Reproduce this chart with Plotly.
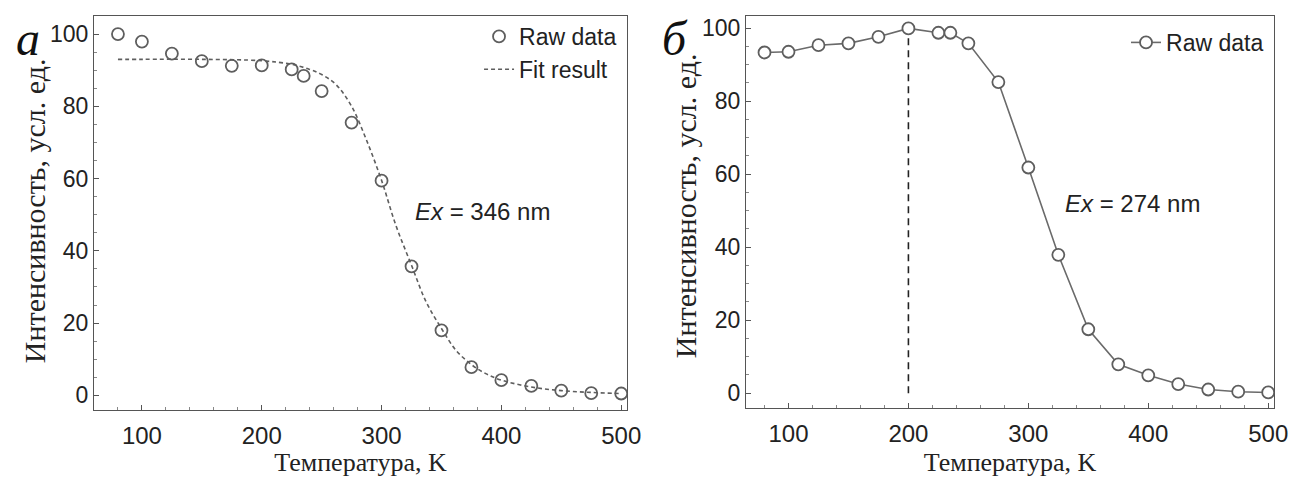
import plotly.graph_objects as go

W, H = 1306, 477

# ---- data: panel a ----
temp_a = [80, 100, 125, 150, 175, 200, 225, 235, 250, 275, 300, 325, 350, 375, 400, 425, 450, 475, 500]
raw_a = [100, 97.9, 94.6, 92.5, 91.2, 91.3, 90.2, 88.4, 84.2, 75.5, 59.4, 35.7, 18.0, 7.8, 4.2, 2.6, 1.3, 0.6, 0.5]

fit_temp = [80, 100, 150, 200, 225, 240, 250, 262, 275, 287, 300, 312, 325, 337, 350, 362, 375, 387, 400, 425, 450, 475, 500]
fit_val = [93, 93, 93, 92.6, 91.6, 90.2, 88.8, 86.0, 80.0, 71, 59.5, 47, 36, 26, 18.5, 12.5, 8.5, 6, 4.2, 2.3, 1.3, 0.8, 0.5]

# ---- data: panel b ----
temp_b = [80, 100, 125, 150, 175, 200, 225, 235, 250, 275, 300, 325, 350, 375, 400, 425, 450, 475, 500]
raw_b = [93.3, 93.5, 95.3, 95.8, 97.6, 99.9, 98.7, 98.7, 95.8, 85.2, 61.8, 37.9, 17.5, 7.9, 4.9, 2.5, 1.0, 0.4, 0.2]

marker_line_x = [200, 200]
marker_line_y = [0, 100]

x_ticks = [100, 200, 300, 400, 500]
y_ticks = [0, 20, 40, 60, 80, 100]

GRAY = "#5e5e5e"
SANS = "Liberation Sans, Arial, sans-serif"
SERIF = "Liberation Serif, Times New Roman, serif"

fig = go.Figure()

fig.add_trace(go.Scatter(
    x=temp_a, y=raw_a, mode="markers", name="Raw data",
    marker=dict(symbol="circle-open", size=12, color=GRAY, line=dict(width=1.8, color=GRAY)),
    xaxis="x", yaxis="y", legend="legend"))
fig.add_trace(go.Scatter(
    x=fit_temp, y=fit_val, mode="lines", name="Fit result", line_shape="spline",
    line=dict(color=GRAY, width=1.6, dash="4px,3px"),
    xaxis="x", yaxis="y", legend="legend"))

fig.add_trace(go.Scatter(
    x=marker_line_x, y=marker_line_y, mode="lines", showlegend=False,
    line=dict(color="#222222", width=1.6, dash="7px,5px"),
    xaxis="x2", yaxis="y2"))
fig.add_trace(go.Scatter(
    x=temp_b, y=raw_b, mode="lines+markers", name="Raw data",
    line=dict(color="#6a6a6a", width=1.6),
    marker=dict(symbol="circle", size=12, color="white", line=dict(width=1.8, color=GRAY)),
    xaxis="x2", yaxis="y2", legend="legend2"))

tick_common = dict(
    showline=True, mirror=True, linecolor="#555555", linewidth=1,
    ticks="inside", ticklen=5, tickcolor="#555555", tickwidth=1,
    showgrid=False, zeroline=False,
    minor=dict(ticks="inside", ticklen=3, tickcolor="#888888"),
)
xt = dict(title_font=dict(family=SERIF, size=26, color="#222222"), title_standoff=6,
          tickfont=dict(family=SANS, size=24, color="#222222"),
          ticklabelstandoff=4, **tick_common)
yt = dict(tickfont=dict(family=SANS, size=23, color="#222222"),
          ticksuffix="\u2009", **tick_common)

fig.update_layout(
    width=W, height=H,
    margin=dict(l=0, r=0, t=0, b=0),
    paper_bgcolor="white", plot_bgcolor="white",
    xaxis=dict(domain=[95 / W, 634 / W], range=[60, 505], tickvals=x_ticks,
               title_text="Температура, K", anchor="y", **xt),
    yaxis=dict(domain=[1 - 410 / H, 1 - 15 / H], range=[-4.1, 105], tickvals=y_ticks,
               anchor="x", **yt),
    xaxis2=dict(domain=[754 / W, 1288 / W], range=[64.5, 505], tickvals=x_ticks,
                title_text="Температура, K", anchor="y2", **xt),
    yaxis2=dict(domain=[1 - 408 / H, 1 - 15 / H], range=[-4.1, 103.3], tickvals=y_ticks,
                anchor="x2", **yt),
    legend=dict(x=634 / W - 0.004, y=1 - 14 / H, xanchor="right", yanchor="top",
                bgcolor="rgba(0,0,0,0)", font=dict(family=SANS, size=23, color="#222222"),
                tracegroupgap=0, itemwidth=30),
    legend2=dict(x=1288 / W - 0.004, y=1 - 20 / H, xanchor="right", yanchor="top",
                 bgcolor="rgba(0,0,0,0)", font=dict(family=SANS, size=23, color="#222222"),
                 itemwidth=30),
    showlegend=True,
)

# rotated y-axis titles
fig.add_annotation(x=35 / W, y=1 - 210 / H, xref="paper", yref="paper",
                   text="Интенсивность, усл. ед.", textangle=-90, showarrow=False,
                   xanchor="center", yanchor="middle",
                   font=dict(family=SERIF, size=30, color="#222222"))
fig.add_annotation(x=693 / W, y=1 - 205 / H, xref="paper", yref="paper",
                   text="Интенсивность, усл. ед.", textangle=-90, showarrow=False,
                   xanchor="center", yanchor="middle",
                   font=dict(family=SERIF, size=30, color="#222222"))

fig.add_annotation(x=326, y=51, xref="x", yref="y", text="<i>Ex</i> = 346 nm",
                   showarrow=False, xanchor="left", yanchor="middle",
                   font=dict(family=SANS, size=24, color="#222222"))
fig.add_annotation(x=329, y=52, xref="x2", yref="y2", text="<i>Ex</i> = 274 nm",
                   showarrow=False, xanchor="left", yanchor="middle",
                   font=dict(family=SANS, size=24, color="#222222"))

fig.add_annotation(x=28 / W, y=1 - 38 / H, xref="paper", yref="paper", text="<i>a</i>",
                   showarrow=False, xanchor="center", yanchor="middle",
                   font=dict(family=SERIF, size=48, color="#111111"))
fig.add_annotation(x=682 / W, y=1 - 38 / H, xref="paper", yref="paper", text="<i>б</i>",
                   showarrow=False, xanchor="center", yanchor="middle",
                   font=dict(family=SERIF, size=48, color="#111111"))

fig.write_html("out.html")
